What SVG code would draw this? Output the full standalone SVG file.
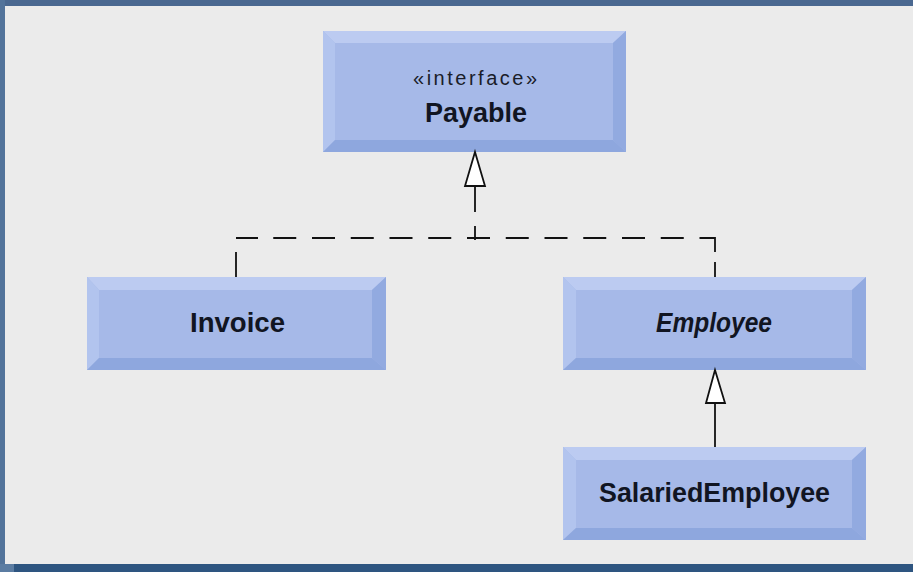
<svg xmlns="http://www.w3.org/2000/svg" width="913" height="572" viewBox="0 0 913 572">
  <defs>
    <style>
      .face { fill: #a6b9e8; }
      .bt { fill: #bccbf1; }
      .bl { fill: #b2c4ee; }
      .br { fill: #92aae0; }
      .bb { fill: #8ea7de; }
      .label { font-family: "Liberation Sans", Arial, sans-serif; font-weight: bold; font-size: 27px; fill: #111522; text-anchor: middle; }
      .stereo { font-family: "Liberation Sans", Arial, sans-serif; font-size: 20px; fill: #1a1d28; text-anchor: middle; }
      .line { fill: none; stroke: #111; stroke-width: 1.8; }
      .head { fill: #ffffff; stroke: #111; stroke-width: 1.8; stroke-linejoin: miter; }
    </style>
  </defs>

  <!-- page background and frame bands -->
  <rect x="0" y="0" width="913" height="572" fill="#ebebeb"/>
  <rect x="0" y="0" width="913" height="6" fill="#4a6890"/>
  <rect x="0" y="0" width="5" height="572" fill="#52739a"/>
  <rect x="0" y="564" width="913" height="8" fill="#2e5580"/>
  <rect x="0" y="564" width="14" height="8" fill="#5b7ca2"/>

  <!-- Payable (interface) -->
  <g id="payable">
    <rect class="face" x="323" y="31" width="303" height="121"/>
    <polygon class="bt" points="323,31 626,31 613,43 335,43"/>
    <polygon class="bl" points="323,31 335,43 335,140 323,152"/>
    <polygon class="br" points="626,31 626,152 613,140 613,43"/>
    <polygon class="bb" points="323,152 335,140 613,140 626,152"/>
    <text class="stereo" x="475" y="85" textLength="124" lengthAdjust="spacing">«interface»</text>
    <text class="label" x="476" y="122" textLength="102" lengthAdjust="spacingAndGlyphs">Payable</text>
  </g>

  <!-- Invoice -->
  <g id="invoice">
    <rect class="face" x="87" y="277" width="299" height="93"/>
    <polygon class="bt" points="87,277 386,277 372,290 99,290"/>
    <polygon class="bl" points="87,277 99,290 99,358 87,370"/>
    <polygon class="br" points="386,277 386,370 372,358 372,290"/>
    <polygon class="bb" points="87,370 99,358 372,358 386,370"/>
    <text class="label" x="237.5" y="332" textLength="95" lengthAdjust="spacingAndGlyphs">Invoice</text>
  </g>

  <!-- Employee (abstract) -->
  <g id="employee">
    <rect class="face" x="563" y="277" width="303" height="93"/>
    <polygon class="bt" points="563,277 866,277 852,290 576,290"/>
    <polygon class="bl" points="563,277 576,290 576,358 563,370"/>
    <polygon class="br" points="866,277 866,370 852,358 852,290"/>
    <polygon class="bb" points="563,370 576,358 852,358 866,370"/>
    <text class="label" x="714" y="332" font-style="italic" textLength="116" lengthAdjust="spacingAndGlyphs">Employee</text>
  </g>

  <!-- SalariedEmployee -->
  <g id="salaried-employee">
    <rect class="face" x="563" y="447" width="303" height="93"/>
    <polygon class="bt" points="563,447 866,447 852,460 576,460"/>
    <polygon class="bl" points="563,447 576,460 576,528 563,540"/>
    <polygon class="br" points="866,447 866,540 852,528 852,460"/>
    <polygon class="bb" points="563,540 576,528 852,528 866,540"/>
    <text class="label" x="714.5" y="502" textLength="231" lengthAdjust="spacingAndGlyphs">SalariedEmployee</text>
  </g>

  <!-- connectors -->
  <g id="connectors">
    <!-- realization: Invoice and Employee implement Payable (dashed) -->
    <path class="line" d="M236,277 L236,252
      M236,238 L258,238
      M273.25,238 L296.25,238
      M312,238 L335,238
      M350.75,238 L373.75,238
      M389.5,238 L412.5,238
      M428.25,238 L451.25,238
      M467,238 L490,238
      M505.75,238 L528.75,238
      M544.5,238 L567.5,238
      M583.25,238 L606.25,238
      M622,238 L645,238
      M660.75,238 L683.75,238
      M699.5,238 L715,238 L715,252
      M715,262 L715,277
      M475,240 L475,226
      M475,212 L475,186"/>
    <polygon class="head" points="475,152 485,186 465,186"/>

    <!-- generalization: SalariedEmployee extends Employee -->
    <path class="line" d="M715,447 L715,403"/>
    <polygon class="head" points="715,370 725,403 706,403"/>
  </g>
</svg>
